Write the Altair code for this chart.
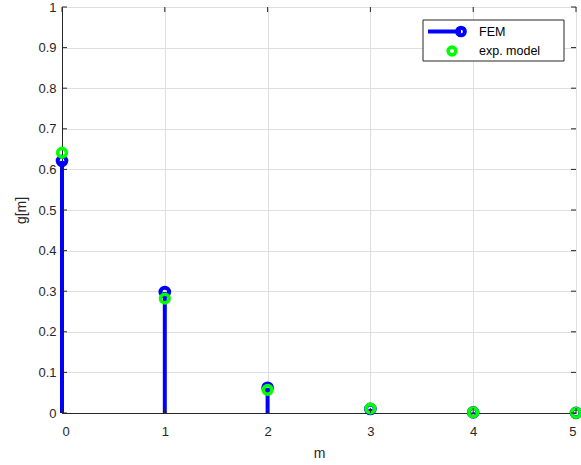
import altair as alt
import pandas as pd

# ---- data ----
m_vals = [0, 1, 2, 3, 4, 5]
fem_vals = [0.621, 0.298, 0.062, 0.010, 0.0015, 0.0003]
exp_vals = [0.641, 0.282, 0.057, 0.011, 0.0015, 0.0003]
x_ticks = [0, 1, 2, 3, 4, 5]
y_ticks = [round(i / 10, 1) for i in range(11)]

W, H = 514, 406
FONT = "Liberation Sans"
DARK = "#262626"
GRID = "#dfdfdf"
BLUE = "#0000ff"
GREEN = "#00ff00"

df = pd.DataFrame({"m": m_vals, "fem": fem_vals, "exp": exp_vals, "zero": [0] * len(m_vals)})

xscale = alt.Scale(domain=[0, 5], nice=False, zero=False)
yscale = alt.Scale(domain=[0, 1], nice=False)

xaxis = alt.Axis(values=x_ticks, title="m", grid=True, gridColor=GRID, ticks=False,
                 labelPadding=12, titlePadding=8, labelFontSize=13, titleFontSize=14,
                 labelFont=FONT, titleFont=FONT, labelColor=DARK, titleColor=DARK,
                 titleFontWeight="normal", domainColor=DARK, format="d")
yaxis = alt.Axis(values=y_ticks, title="g[m]", grid=True, gridColor=GRID, ticks=False,
                 labelPadding=6, titlePadding=9, labelFontSize=13, titleFontSize=14,
                 labelFont=FONT, titleFont=FONT, labelColor=DARK, titleColor=DARK,
                 titleFontWeight="normal", domainColor=DARK, format=".1~f")

base = alt.Chart(df)

stems = base.mark_rule(color=BLUE, strokeWidth=4).encode(
    x=alt.X("m:Q", scale=xscale, axis=xaxis),
    y=alt.Y("zero:Q", scale=yscale, axis=yaxis),
    y2="fem:Q",
)
fem_pts = base.mark_point(shape="circle", filled=False, color=BLUE, strokeWidth=4,
                          size=75, opacity=1).encode(
    x=alt.X("m:Q", scale=xscale), y=alt.Y("fem:Q", scale=yscale))
exp_pts = base.mark_point(shape="circle", filled=False, color=GREEN, strokeWidth=3.6,
                          size=75, opacity=1).encode(
    x=alt.X("m:Q", scale=xscale), y=alt.Y("exp:Q", scale=yscale))

# inward tick marks on all four sides
xt = alt.Chart(pd.DataFrame({"t": x_ticks}))
yt = alt.Chart(pd.DataFrame({"t": y_ticks}))
tick_style = dict(color=DARK, strokeWidth=1)
ticks_bottom = xt.mark_rule(**tick_style).encode(
    x=alt.X("t:Q", scale=xscale), y=alt.value(H), y2=alt.value(H - 5))
ticks_top = xt.mark_rule(**tick_style).encode(
    x=alt.X("t:Q", scale=xscale), y=alt.value(0), y2=alt.value(5))
ticks_left = yt.mark_rule(**tick_style).encode(
    y=alt.Y("t:Q", scale=yscale), x=alt.value(0), x2=alt.value(5))
ticks_right = yt.mark_rule(**tick_style).encode(
    y=alt.Y("t:Q", scale=yscale), x=alt.value(W), x2=alt.value(W - 5))

# legend (drawn manually, MATLAB style)
one = alt.Chart(pd.DataFrame({"a": [0]}))
leg_box = one.mark_rect(fill="white", stroke=DARK, strokeWidth=1).encode(
    x=alt.value(361), x2=alt.value(502), y=alt.value(13), y2=alt.value(54))
leg_line = one.mark_rule(color=BLUE, strokeWidth=4).encode(
    x=alt.value(366), x2=alt.value(399), y=alt.value(24.5))
leg_fem = one.mark_point(shape="circle", filled=False, color=BLUE, strokeWidth=4,
                         size=60, opacity=1).encode(x=alt.value(399), y=alt.value(24.5))
leg_exp = one.mark_point(shape="circle", filled=False, color=GREEN, strokeWidth=3.6,
                         size=60, opacity=1).encode(x=alt.value(390), y=alt.value(44))
legend_labels = ["FEM", "exp. model"]
leg_txt1 = one.mark_text(text=legend_labels[0], align="left", baseline="middle",
                         font=FONT, fontSize=12.5, color="black").encode(
    x=alt.value(417), y=alt.value(24.5))
leg_txt2 = one.mark_text(text=legend_labels[1], align="left", baseline="middle",
                         font=FONT, fontSize=12.5, color="black").encode(
    x=alt.value(417), y=alt.value(44))

chart = alt.layer(
    stems, fem_pts, exp_pts,
    ticks_bottom, ticks_top, ticks_left, ticks_right,
    leg_box, leg_line, leg_fem, leg_exp, leg_txt1, leg_txt2,
).properties(
    width=W, height=H,
    autosize=alt.AutoSizeParams(type="none"),
    padding={"left": 62, "top": 7, "right": 5, "bottom": 52},
    background="white",
).configure_view(
    stroke=DARK, strokeWidth=1,
)

chart.save("out.html", embed_options={"renderer": "svg", "actions": False})
